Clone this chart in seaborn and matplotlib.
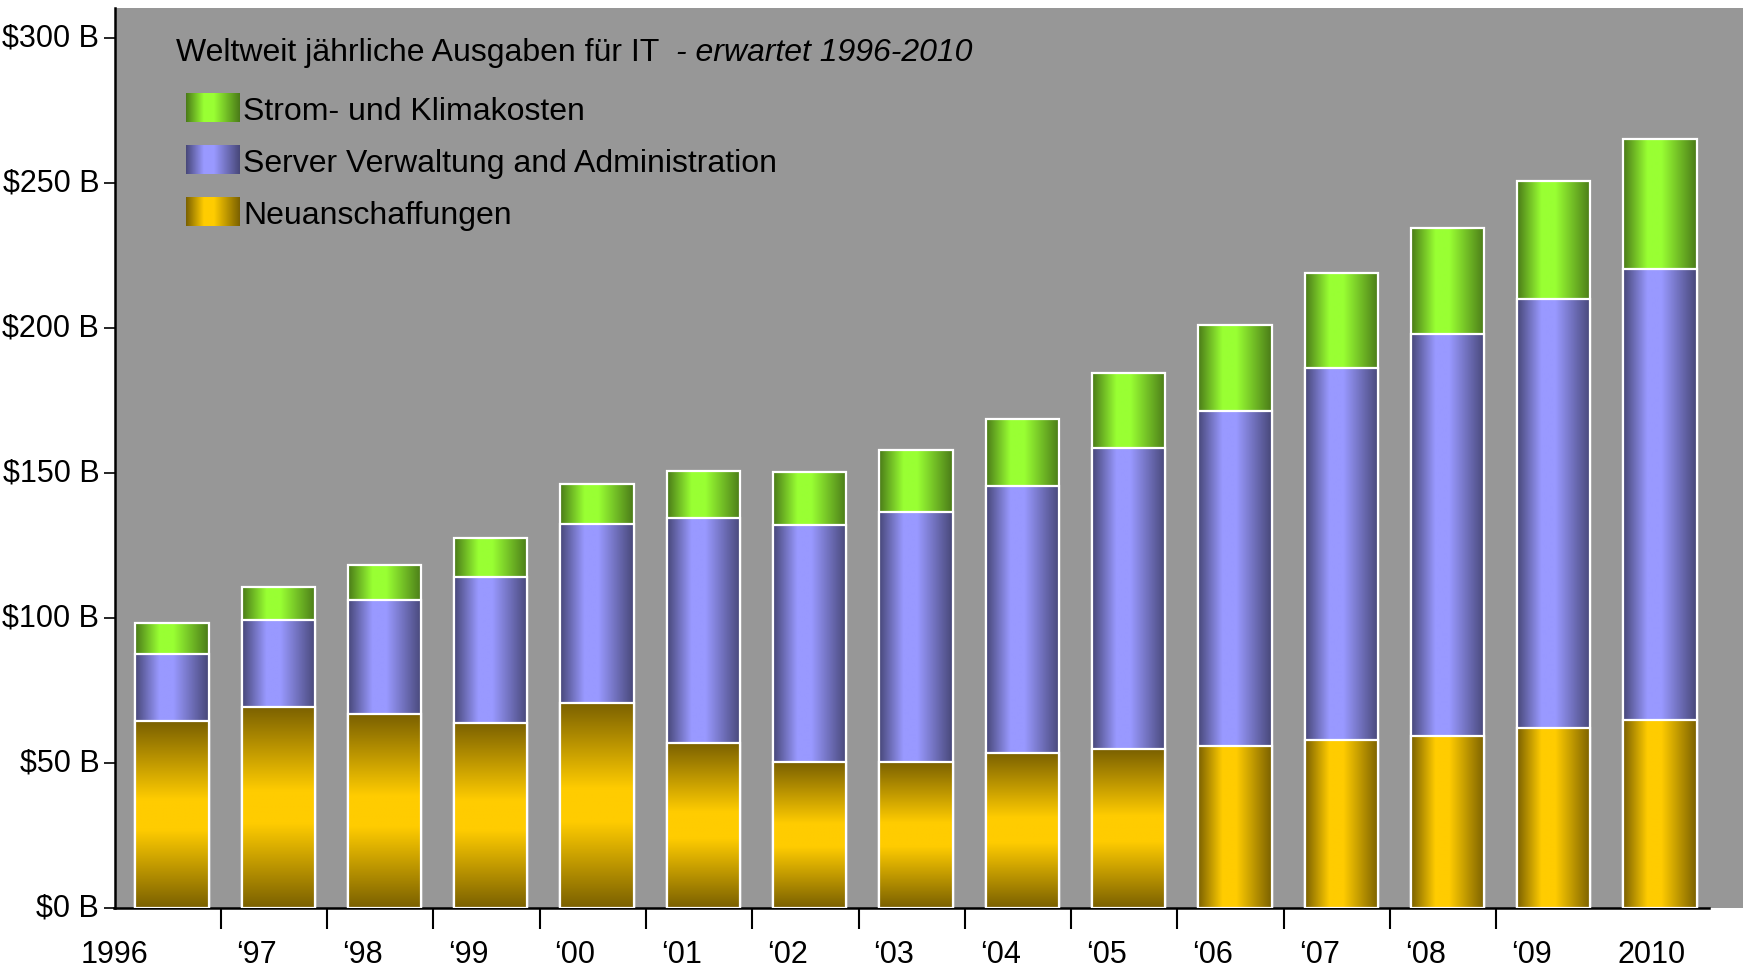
import numpy as np
import pandas as pd
import matplotlib
matplotlib.use("Agg")
import matplotlib.pyplot as plt
import seaborn as sns
from matplotlib.colors import LinearSegmentedColormap
from matplotlib.legend_handler import HandlerBase
from matplotlib.image import BboxImage
from matplotlib.transforms import Bbox, TransformedBbox, ScaledTranslation
from matplotlib.patches import Patch

sns.set_theme(style="white")
plt.rcParams["font.family"] = ["Liberation Sans", "DejaVu Sans"]
plt.rcParams["text.color"] = "black"
plt.rcParams["xtick.color"] = "black"
plt.rcParams["ytick.color"] = "black"

# --- data (billion $ per year) ---
years = ["1996", "\u201897", "\u201898", "\u201899", "\u201800", "\u201801", "\u201802",
         "\u201803", "\u201804", "\u201805", "\u201806", "\u201807", "\u201808", "\u201809", "2010"]
neu = [64.4, 69.4, 66.8, 63.8, 70.7, 56.9, 50.2, 50.4, 53.6, 54.8, 56.0, 57.9, 59.3, 62.1, 64.9]
server = [23.2, 29.9, 39.4, 50.2, 61.7, 77.6, 81.9, 86.0, 92.0, 103.7, 115.3, 128.2, 138.5, 148.0, 155.5]
strom = [10.7, 11.3, 12.1, 13.5, 13.7, 16.3, 18.3, 21.6, 22.9, 25.9, 29.7, 32.9, 36.7, 40.6, 44.6]
y_ticks = [0, 50, 100, 150, 200, 250, 300]
y_labels = ["$0 B", "$50 B", "$100 B", "$150 B", "$200 B", "$250 B", "$300 B"]
labels = ["Strom- und Klimakosten", "Server Verwaltung and Administration", "Neuanschaffungen"]

df = pd.DataFrame({"Jahr": years, "Neu": neu, "Server": server, "Strom": strom})
df["top_server"] = df["Neu"] + df["Server"]
df["top_strom"] = df["top_server"] + df["Strom"]

# gradient colour maps (dark edge -> light centre -> dark edge)
def shade(dark, light, a=0.33, b=0.52):
    return LinearSegmentedColormap.from_list("g", [(0, dark), (a, light), (b, light), (1, dark)])

cm_green = shade("#4a7a18", "#99ff33")
cm_blue = shade("#474778", "#9999ff")
cm_gold = shade("#7a6000", "#ffcc00")
cm_gold_v = shade("#7a6000", "#ffcc00", 0.42, 0.58)

grad_h = np.linspace(0, 1, 256).reshape(1, -1)
grad_v = np.linspace(0, 1, 256).reshape(-1, 1)

fig = plt.figure(figsize=(17.43, 9.70), dpi=100)
ax = fig.add_axes([114.5 / 1743, 61 / 970, 1 - 114.5 / 1743, 900 / 970])
ax.set_facecolor("#979797")

layers = [("top_strom", cm_green, 2), ("top_server", cm_blue, 4), ("Neu", cm_gold, 6)]
for col, cmap, z in layers:
    sns.barplot(data=df, x="Jahr", y=col, color="white", width=0.69, saturation=1,
                edgecolor="white", linewidth=1.6, errorbar=None, ax=ax)
    bars = ax.containers[-1]
    for i, p in enumerate(bars.patches):
        x0, y0, w, h = p.get_x(), p.get_y(), p.get_width(), p.get_height()
        if col == "Neu" and i < 10:
            g, cm = grad_v, cm_gold_v
        else:
            g, cm = grad_h, cmap
        im = ax.imshow(g, extent=[x0, x0 + w, y0, y0 + h], aspect="auto",
                       cmap=cm, interpolation="bilinear", zorder=z)
        im.set_clip_path(p)
        p.set_facecolor("none")
        p.set_zorder(z + 0.5)

ax.set_xlim(-0.54, 14.78)
ax.set_ylim(0, 310.3)
ax.set_xlabel("")
ax.set_ylabel("")

# axes / ticks
for s in ["top", "right"]:
    ax.spines[s].set_visible(False)
for s in ["left", "bottom"]:
    ax.spines[s].set_color("black")
    ax.spines[s].set_linewidth(1.8)
ax.spines["bottom"].set_bounds(-0.54, 14.46)

ax.set_yticks(y_ticks, y_labels)
ax.tick_params(axis="y", direction="out", length=8, width=1.2, color="black",
               labelsize=22, pad=3, left=True)
# labels sit a little above their ticks in the original
up = ScaledTranslation(0, 4 / 100, fig.dpi_scale_trans)
for t in ax.get_yticklabels():
    t.set_transform(t.get_transform() + up)

label_pos = np.arange(len(years)) - 0.4
label_pos[0] = -0.54
ax.set_xticks(label_pos, years)
ax.set_xticks(np.arange(len(years) - 1) - 0.54, minor=True)
ax.tick_params(axis="x", which="major", length=0, labelsize=22, pad=22)
ax.tick_params(axis="x", which="minor", direction="out", length=15, width=1.5,
               color="black", bottom=True)
for i, t in enumerate(ax.get_xticklabels()):
    t.set_horizontalalignment("center" if i == 0 else "left")

# title inside the plot
t1 = ax.text(0.0375, 0.942, "Weltweit j\u00e4hrliche Ausgaben f\u00fcr IT  ",
             transform=ax.transAxes, fontsize=23, va="baseline", color="black")
ax.annotate("- erwartet 1996-2010", xy=(1, 0), xycoords=t1, va="bottom",
            fontsize=23, style="italic", color="black")


# legend with gradient swatches
class GradHandler(HandlerBase):
    def __init__(self, cmap):
        super().__init__()
        self.cmap = cmap

    def create_artists(self, legend, orig_handle, xdescent, ydescent, width, height, fontsize, trans):
        bb = Bbox.from_bounds(-xdescent, -ydescent, width, height)
        img = BboxImage(TransformedBbox(bb, trans), cmap=self.cmap, interpolation="bilinear")
        img.set_data(grad_h)
        return [img]


handles = [Patch(label=l) for l in labels]
hmap = {handles[0]: GradHandler(cm_green), handles[1]: GradHandler(cm_blue),
        handles[2]: GradHandler(cm_gold)}
ax.legend(handles=handles, handler_map=hmap, loc="upper left", bbox_to_anchor=(0.0437, 0.905),
          frameon=False, fontsize=23, handlelength=1.67, handleheight=1.0,
          handletextpad=0.14, labelspacing=0.62, borderpad=0, borderaxespad=0,
          labelcolor="black")

fig.savefig("out.png", dpi=100, facecolor="white")
